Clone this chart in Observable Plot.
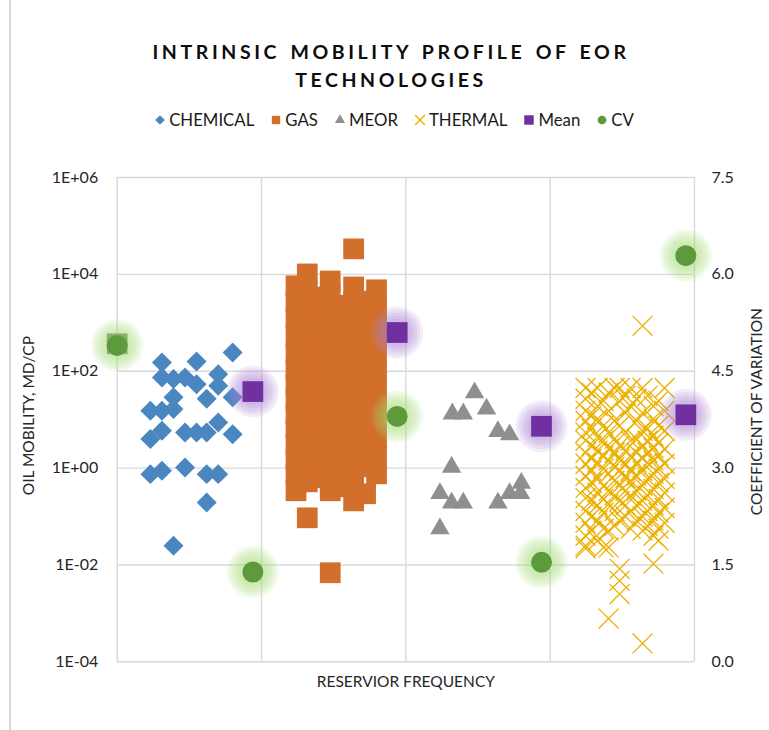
<!DOCTYPE html>
<html>
<head>
<meta charset="utf-8">
<script src="https://cdn.jsdelivr.net/npm/d3@7"></script>
<script src="https://cdn.jsdelivr.net/npm/@observablehq/plot@0.6"></script>
<style>
  body { margin: 0; background: #fff; font-family: Lato, "Open Sans", sans-serif; }
  #wrap { position: relative; width: 769px; height: 730px; overflow: hidden; background: #fff; }
  #border { position: absolute; left: 9px; top: 0; height: 730px; border-left: 2px solid #d9d9d9; z-index: 5; }
  #title { position: absolute; left: 0; top: 38px; width: 782px; text-align: center; font-weight: 700;
           font-size: 19.5px; letter-spacing: 3.6px; word-spacing: 2px; line-height: 28px; color: #0d0d0d; }
  #legend { position: absolute; left: 0; top: 109px; width: 788px; display: flex; justify-content: center;
            gap: 16px; font-size: 16.8px; color: #1a1a1a; }
  #legend .item { display: flex; align-items: center; gap: 3px; }
  #chart { position: absolute; left: 0; top: 130px; }
</style>
</head>
<body>
<div id="wrap">
  <div id="title">INTRINSIC MOBILITY PROFILE OF EOR<br>TECHNOLOGIES</div>
  <div id="legend"></div>
  <div id="chart"></div>
  <div id="border"></div>
</div>
<script>
// ---------- data (x = reservoir frequency position, y = oil mobility md/cp) ----------
const chemicalX = [0.80,0.31,0.55,0.31,0.39,0.47,0.55,0.70,0.70,0.39,0.62,0.80,0.23,0.31,0.39,0.70,0.31,0.23,0.47,0.55,0.62,0.80,0.23,0.31,0.47,0.62,0.70,0.62,0.39];
const chemicalY = [243,151,159,74,69,74,54,87,50,29,27,29,15.2,15.2,16.5,8.7,5.9,4.0,5.4,5.4,5.4,5.0,0.75,0.88,1.03,0.75,0.75,0.195,0.025];

const gasColumnX = [1.239, 1.317, 1.395, 1.476, 1.554, 1.638, 1.721, 1.797];
const gasColumnY = [
  [5800, 2800, 1200, 540, 240, 112, 55, 26, 12.6, 6.5, 3.0, 1.5, 0.73, 0.34],
  [10200, 4600, 2100, 1000, 420, 200, 97, 43, 22, 9.9, 4.4, 2.2, 1.06, 0.52, 0.094],
  [3400, 1600, 680, 300, 142, 63, 28, 13.2, 5.9, 2.75, 1.3, 0.63],
  [7300, 3600, 1700, 790, 350, 164, 73, 34, 16, 7.5, 3.5, 1.6, 0.80, 0.34, 0.0069],
  [2300, 950, 440, 200, 88, 39, 19, 9.0, 4.0, 1.9, 0.88, 0.41],
  [33600, 5500, 2600, 1200, 540, 240, 112, 52, 23, 10.9, 5.1, 2.4, 1.1, 0.50, 0.21],
  [2800, 1260, 560, 260, 118, 52, 24.5, 11.5, 5.4, 2.4, 1.06, 0.295],
  [4800, 2200, 1000, 470, 210, 97, 43, 20, 9.0, 4.2, 1.9, 0.76]
];

const meorX = [2.476,2.322,2.398,2.559,2.638,2.719,2.317,2.236,2.317,2.398,2.638,2.719,2.80,2.795,2.236];
const meorY = [36,13.2,13.2,16.7,5.7,4.9,1.05,0.30,0.19,0.19,0.19,0.30,0.49,0.30,0.056];

const thermalColumnX = [3.245,3.287,3.328,3.370,3.405,3.446,3.481,3.522,3.557,3.599,3.640,3.675,3.716,3.751,3.793];
const thermalColumnY = [
  [45, 27, 15.2, 9.5, 5.4, 3.7, 2.07, 1.23, 0.69, 0.39, 0.24, 0.13, 0.074, 0.040, 0.022, 0.025],
  [36, 12.0, 6.5, 2.9, 1.56, 0.88, 0.50, 0.21, 0.10, 0.051],
  [45, 19, 10.4, 4.4, 2.3, 1.3, 0.60, 0.31, 0.17, 0.082, 0.032],
  [24.5, 7.5, 3.7, 1.8, 0.97, 0.43, 0.23, 0.12, 0.056, 0.023],
  [36, 15.2, 5.4, 2.5, 1.42, 0.76, 0.34, 0.18, 0.051, 0.00078, 0.023],
  [45, 9.5, 4.0, 2.07, 1.06, 0.55, 0.27, 0.13, 0.064],
  [45, 24.5, 7.5, 2.9, 1.56, 0.88, 0.43, 0.21, 0.082, 0.0083, 0.0047, 0.0025],
  [31, 13.8, 5.4, 2.3, 1.23, 0.63, 0.34, 0.17, 0.10],
  [45, 19, 3.7, 1.8, 0.88, 0.55, 0.27, 0.13, 0.056],
  [27, 9.5, 4.0, 2.07, 1.3, 0.69, 0.34, 0.17, 0.082],
  [865, 45, 13.8, 5.9, 2.9, 1.6, 0.88, 0.43, 0.21, 0.10, 0.051, 0.00024],
  [31, 6.5, 3.7, 2.07, 1.3, 0.60, 0.27, 0.13, 0.064],
  [19, 10.4, 4.6, 2.6, 1.42, 0.76, 0.37, 0.17, 0.082, 0.040, 0.0106],
  [24.5, 7.5, 3.3, 1.8, 0.97, 0.50, 0.23, 0.12, 0.056, 0.032],
  [45, 15.2, 5.9, 2.5, 1.23, 0.60, 0.31, 0.15, 0.074]
];

const meanX = [0.94, 1.94, 2.94, 3.94];
const meanY = [38, 630, 7.3, 12.6];           // md/cp (left axis)
const baseX = [0];
const baseY = [368];                            // grey marker at origin
const cvX = [0, 0.94, 1.94, 2.94, 3.94];
const cvY = [4.90, 1.39, 3.80, 1.54, 6.29];     // coefficient of variation (right axis)

const leftTicks = [1e-4, 1e-2, 1, 1e2, 1e4, 1e6];
const rightTicks = [0, 1.5, 3.0, 4.5, 6.0, 7.5];
const xGrid = [0, 1, 2, 3, 4];

const legendNames = ["CHEMICAL", "GAS", "MEOR", "THERMAL", "Mean", "CV"];
const colors = {
  CHEMICAL: "#4a87c0", GAS: "#d2702b", MEOR: "#8f8f8f", THERMAL: "#ebb000",
  Mean: "#7030a0", CV: "#5c9a3c", base: "#7a7a7a", meanGlow: "#a77fd6", cvGlow: "#a3de6e"
};
const symbols = { CHEMICAL: "diamond2", GAS: "square", MEOR: "triangle", THERMAL: "times", Mean: "square", CV: "circle" };

// ---------- build tables ----------
const zip = (xs, ys) => xs.map((x, i) => ({ x, y: ys[i] }));
const chemical = zip(chemicalX, chemicalY);
const gas = gasColumnX.flatMap((x, i) => gasColumnY[i].map(y => ({ x, y })));
const meor = zip(meorX, meorY);
const thermal = thermalColumnX.flatMap((x, i) => thermalColumnY[i].map(y => ({ x, y })));
const mean = zip(meanX, meanY);
const base = zip(baseX, baseY);
// CV values are mapped onto the log y scale so that 0–7.5 spans 1E-04–1E+06
const cvToY = v => Math.pow(10, -4 + v / 7.5 * 10);
const yToCv = y => (Math.log10(y) + 4) / 10 * 7.5;
const cv = cvX.map((x, i) => ({ x, y: cvToY(cvY[i]) }));

const fmtE = d => {
  const e = Math.round(Math.log10(d));
  return "1E" + (e < 0 ? "-" : "+") + String(Math.abs(e)).padStart(2, "0");
};

const glowRadii = [26, 23, 20, 17, 14];
const glow = (data, color) => glowRadii.map(r =>
  Plot.dot(data, { x: "x", y: "y", r, fill: color, fillOpacity: 0.14, stroke: null }));

const plot = Plot.plot({
  width: 769,
  height: 600,
  marginTop: 47,
  marginBottom: 68.7,
  marginLeft: 116.7,
  marginRight: 75,
  style: { fontFamily: "Lato, 'Open Sans', sans-serif", fontSize: "16px", color: "#262626", background: "#fff" },
  x: { domain: [0, 4], axis: null },
  y: { type: "log", domain: [1e-4, 1e6], axis: null },
  marks: [
    Plot.gridX(xGrid, { stroke: "#d9d9d9", strokeOpacity: 1, strokeWidth: 1.4 }),
    Plot.gridY(leftTicks, { stroke: "#d9d9d9", strokeOpacity: 1, strokeWidth: 1.4 }),
    Plot.axisY(leftTicks, { anchor: "left", tickSize: 0, tickPadding: 19, tickFormat: fmtE, label: null, fontSize: 16 }),
    Plot.axisY(rightTicks.map(cvToY), { anchor: "right", tickSize: 0, tickPadding: 17, tickFormat: d => yToCv(d).toFixed(1), label: null, fontSize: 16 }),
    Plot.text(["OIL MOBILITY, MD/CP"], { frameAnchor: "left", dx: -88, dy: -4, rotate: -90, textAnchor: "middle", lineAnchor: "middle", fontSize: 15.5, fill: "#262626" }),
    Plot.text(["COEFFICIENT OF VARIATION"], { frameAnchor: "right", dx: 63, dy: -8, rotate: -90, textAnchor: "middle", lineAnchor: "middle", fontSize: 15.5, fill: "#262626" }),
    Plot.text(["RESERVIOR FREQUENCY"], { frameAnchor: "bottom", dy: 20, textAnchor: "middle", lineAnchor: "middle", fontSize: 15.5, fill: "#262626" }),

    Plot.dot(chemical, { x: "x", y: "y", symbol: "diamond2", r: 9, fill: colors.CHEMICAL, stroke: null }),
    Plot.dot(gas, { x: "x", y: "y", symbol: "square", r: 11.7, fill: colors.GAS, stroke: null }),
    Plot.dot(meor, { x: "x", y: "y", symbol: "triangle", r: 7.2, fill: colors.MEOR, stroke: null }),
    Plot.dot(thermal, { x: "x", y: "y", symbol: "times", r: 9.1, stroke: colors.THERMAL, strokeWidth: 1.3 }),

    Plot.dot(base, { x: "x", y: "y", symbol: "square", r: 11.7, fill: colors.base, stroke: null }),
    ...glow(mean, colors.meanGlow),
    Plot.dot(mean, { x: "x", y: "y", symbol: "square", r: 11.7, fill: colors.Mean, stroke: null }),
    ...glow(cv, colors.cvGlow),
    Plot.dot(cv, { x: "x", y: "y", symbol: "circle", r: 10.5, fill: colors.CV, stroke: null })
  ]
});
document.getElementById("chart").appendChild(plot);

// ---------- legend ----------
const legend = d3.select("#legend");
const legendSizes = { CHEMICAL: 60, GAS: 70, MEOR: 44, THERMAL: 64, Mean: 90, CV: 60 };
legendNames.forEach(name => {
  const item = legend.append("div").attr("class", "item");
  const svg = item.append("svg").attr("width", 12).attr("height", 14).attr("viewBox", "-6 -7 12 14");
  const sym = { diamond2: d3.symbolDiamond2, square: d3.symbolSquare, triangle: d3.symbolTriangle, times: d3.symbolTimes, circle: d3.symbolCircle }[symbols[name]];
  const path = svg.append("path").attr("d", d3.symbol(sym, legendSizes[name])());
  if (name === "THERMAL") path.attr("fill", "none").attr("stroke", colors[name]).attr("stroke-width", 1.4);
  else path.attr("fill", colors[name]);
  item.append("span").text(name);
});
</script>
</body>
</html>
